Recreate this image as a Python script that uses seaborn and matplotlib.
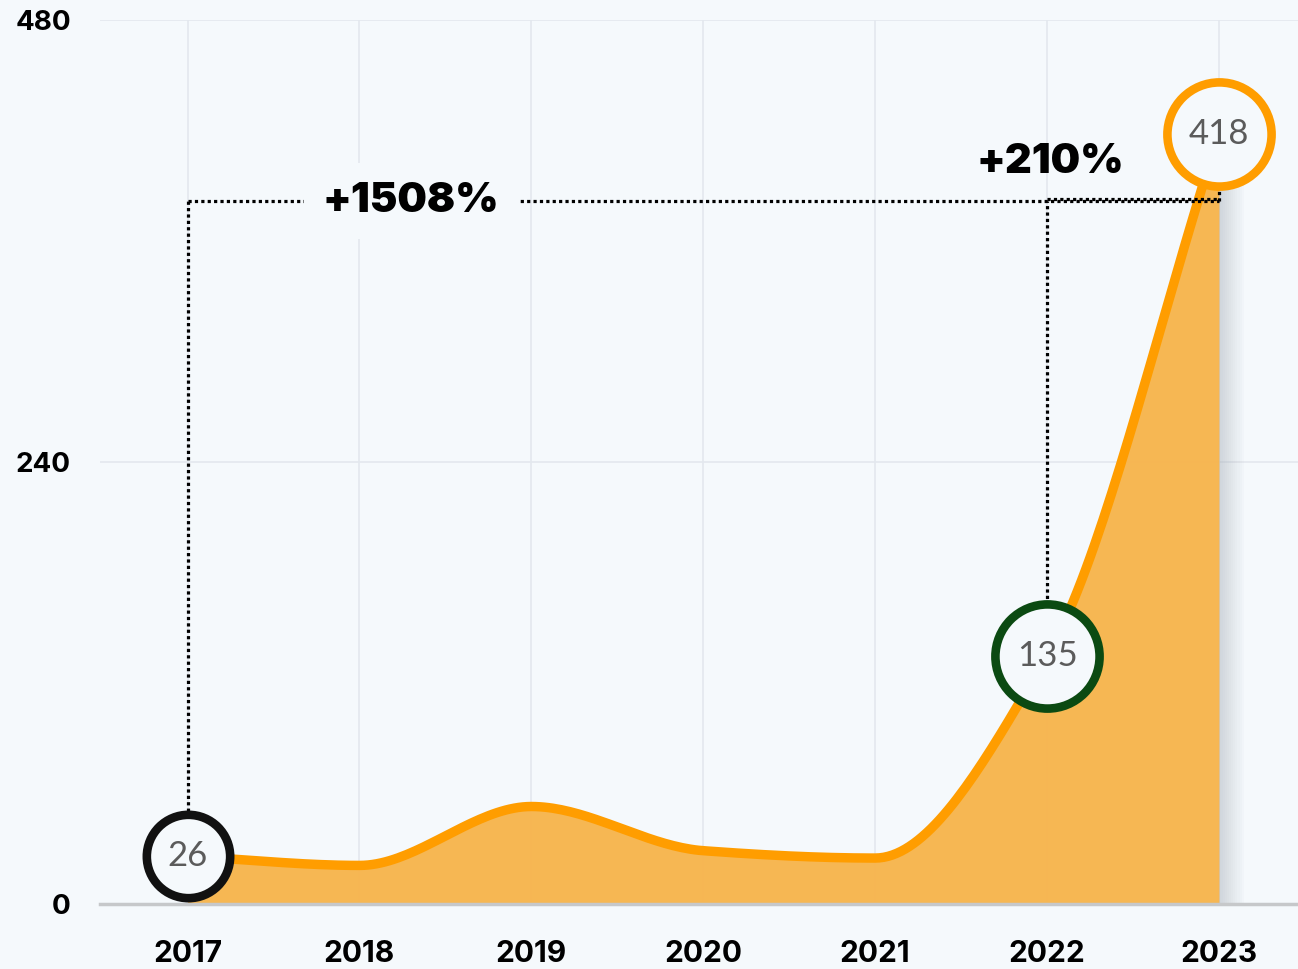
import numpy as np
import matplotlib
matplotlib.use("Agg")
import matplotlib.pyplot as plt
import seaborn as sns

# dữ liệu
years = [2017, 2018, 2019, 2020, 2021, 2022, 2023]
values = [26, 21, 53, 29, 25, 135, 418]
y_ticks = [0, 240, 480]
bracket_level = 382
label_all = "+1508%"
label_last = "+210%"

BG = "#f5f9fc"
ORANGE = "#ff9d00"
FILL = "#f7b44a"
GRID = "#e3e8ee"


def monotone_curve(x, y, n=40):
    # nội suy Fritsch-Carlson cho đường cong mượt, không vượt quá
    x = np.asarray(x, float)
    y = np.asarray(y, float)
    h = np.diff(x)
    d = np.diff(y) / h
    m = np.zeros_like(y)
    m[0], m[-1] = d[0], d[-1]
    for i in range(1, len(y) - 1):
        if d[i - 1] * d[i] <= 0:
            m[i] = 0
        else:
            m[i] = 2 / (1 / d[i - 1] + 1 / d[i])
    xs, ys = [], []
    for i in range(len(x) - 1):
        t = np.linspace(0, 1, n, endpoint=False)
        h00 = 2 * t**3 - 3 * t**2 + 1
        h10 = t**3 - 2 * t**2 + t
        h01 = -2 * t**3 + 3 * t**2
        h11 = t**3 - t**2
        xs.append(x[i] + t * h[i])
        ys.append(h00 * y[i] + h10 * h[i] * m[i] + h01 * y[i + 1] + h11 * h[i] * m[i + 1])
    xs.append([x[-1]])
    ys.append([y[-1]])
    return np.concatenate(xs), np.concatenate(ys)


sns.set_theme(style="white")
plt.rcParams["font.family"] = ["Inter", "DejaVu Sans"]

fig = plt.figure(figsize=(12.98, 9.69), dpi=100, facecolor=BG)
ax = fig.add_axes([0.077, 0.067, 0.923, 0.912])
ax.set_facecolor(BG)

xs, ys = monotone_curve(years, values)

# bóng mờ bên phải vùng tô
for k in range(12):
    ax.fill_between([years[-1], years[-1] + 0.012 * (k + 1)], 0, values[-1],
                    color="#9aa3ad", alpha=0.035, lw=0, zorder=1)

ax.fill_between(xs, 0, ys, color=FILL, alpha=0.95, lw=0, zorder=2)
sns.lineplot(x=xs, y=ys, ax=ax, color=ORANGE, lw=6.8, zorder=3, sort=False,
             solid_capstyle="round")

# đường chấm chú thích
dot = dict(color="black", lw=2.3, ls=(0, (1, 1)), dash_capstyle="butt", zorder=4)
ax.plot([years[0], years[0]], [values[0], bracket_level], **dot)
ax.plot([years[0], years[-1]], [bracket_level, bracket_level], **dot)
ax.plot([years[5], years[5]], [values[5], bracket_level], **dot)
ax.plot([years[5], years[-1]], [bracket_level + 1, bracket_level + 1], **dot)
ax.plot([years[-1], years[-1]], [bracket_level, values[-1]], **dot)

ax.text(2018.30, bracket_level, label_all, ha="center", va="center",
        fontsize=30, fontweight="black", color="black", zorder=5,
        bbox=dict(boxstyle="square,pad=0.45", fc=BG, ec="none"))
ax.text(2022.02, 403, label_last, ha="center", va="center",
        fontsize=30, fontweight="black", color="black", zorder=5)

# vòng tròn đánh dấu: (chỉ số, màu, kích thước)
marks = [(0, "#111111", 60), (5, "#0b4a12", 75), (6, ORANGE, 75)]
for i, col, size in marks:
    ax.plot(years[i], values[i], "o", ms=size, mfc=BG, mec=col, mew=6.2,
            zorder=6, clip_on=False)
    ax.text(years[i], values[i], str(values[i]), ha="center", va="center",
            fontsize=25, color="#5b5b5b", family=["Lato", "DejaVu Sans"], zorder=7)

ax.set_xlim(2016.49, 2023.46)
ax.set_ylim(0, 480)
ax.set_xticks(years)
ax.set_xticklabels([str(y) for y in years])
ax.set_yticks(y_ticks)
ax.tick_params(axis="x", length=0, pad=26, labelsize=21.5)
ax.tick_params(axis="y", length=0, pad=21, labelsize=20)
for lab in ax.get_xticklabels() + ax.get_yticklabels():
    lab.set_fontweight("bold")
    lab.set_color("black")

ax.grid(True, color=GRID, lw=1.2, zorder=0)
ax.set_axisbelow(True)
for s in ["top", "right", "left"]:
    ax.spines[s].set_visible(False)
ax.spines["bottom"].set_color("#c6c8ca")
ax.spines["bottom"].set_linewidth(2.5)
ax.spines["bottom"].set_zorder(5)

fig.savefig("out.png", dpi=100, facecolor=BG)
